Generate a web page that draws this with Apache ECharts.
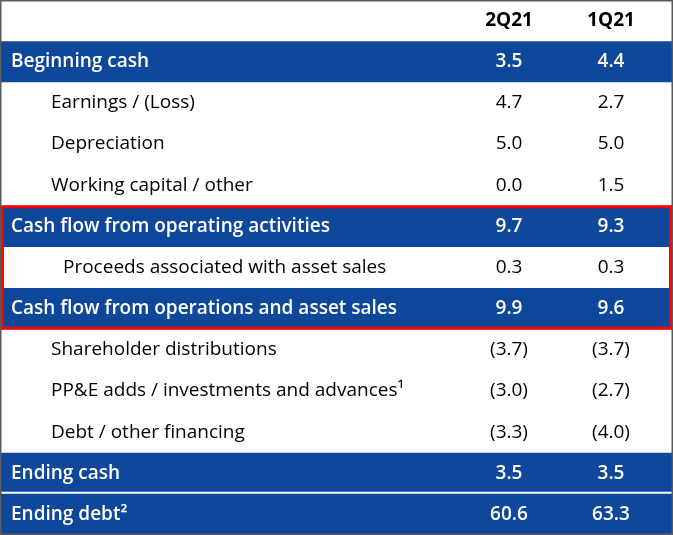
<!DOCTYPE html>
<html><head><meta charset="utf-8">
<script src="https://cdn.jsdelivr.net/npm/echarts@6/dist/echarts.min.js"></script>
<style>html,body{margin:0;padding:0;background:#fff}#c{width:673px;height:535px}</style>
</head><body><div id="c"></div>
<script>
const columns = ["2Q21", "1Q21"];
const labels = ["", "Beginning cash", "Earnings / (Loss)", "Depreciation", "Working capital / other",
  "Cash flow from operating activities", "Proceeds associated with asset sales",
  "Cash flow from operations and asset sales", "Shareholder distributions",
  "PP&E adds / investments and advances¹", "Debt / other financing", "Ending cash", "Ending debt²"];
const rowTypes = ["head", "total", "item", "item", "item", "total", "sub", "total", "item", "item", "item", "total", "total"];
const q2Values = [null, 3.5, 4.7, 5.0, 0.0, 9.7, 0.3, 9.9, -3.7, -3.0, -3.3, 3.5, 60.6];
const q1Values = [null, 4.4, 2.7, 5.0, 1.5, 9.3, 0.3, 9.6, -3.7, -2.7, -4.0, 3.5, 63.3];
const highlightRows = [5, 7];

const W = 673;
const BLUE = '#0F479B';
const FONT = '"Open Sans", "Noto Sans", sans-serif';
const FS = 19;
const COLX = [509, 611];
const INDENT = {total: 11, item: 51, sub: 63, head: 11};

function fmt(v) {
  if (v === null || v === undefined) return '';
  return v < 0 ? '(' + Math.abs(v).toFixed(1) + ')' : v.toFixed(1);
}

const chart = echarts.init(document.getElementById('c'), null, {renderer: 'canvas'});
const rowData = labels.map((l, i) => [0, i]);

chart.setOption({
  animation: false,
  grid: {left: 0, right: 0, top: 0, bottom: 0},
  xAxis: {type: 'value', min: 0, max: W, show: false},
  yAxis: {type: 'category', data: labels, inverse: true, show: false},
  series: [{
    type: 'custom',
    data: rowData,
    renderItem: function (params, api) {
      const i = api.value(1);
      const c = api.coord([0, i]);
      const h = api.size([0, 1])[1];
      const top = c[1] - h / 2;
      const type = rowTypes[i];
      const children = [];
      const blue = type === 'total';
      if (blue) {
        const gapBottom = (i === 11) ? 2 : 0;
        children.push({type: 'rect', shape: {x: 0, y: top, width: W, height: h - gapBottom},
          style: {fill: BLUE}});
      }
      const color = blue ? '#ffffff' : '#000000';
      const weight = blue ? 600 : 400;
      if (type === 'head') {
        columns.forEach((col, k) => {
          children.push({type: 'text', style: {x: COLX[k], y: c[1], text: col, fill: '#000',
            font: '700 ' + FS + 'px ' + FONT, textAlign: 'center', textVerticalAlign: 'middle'}});
        });
      } else {
        children.push({type: 'text', style: {x: INDENT[type], y: c[1], text: labels[i], fill: color,
          font: weight + ' ' + FS + 'px ' + FONT, textAlign: 'left', textVerticalAlign: 'middle'}});
        [q2Values[i], q1Values[i]].forEach((v, k) => {
          children.push({type: 'text', style: {x: COLX[k], y: c[1], text: fmt(v), fill: color,
            font: weight + ' ' + FS + 'px ' + FONT, textAlign: 'center', textVerticalAlign: 'middle'}});
        });
      }
      return {type: 'group', children: children};
    }
  }, {
    type: 'custom',
    data: [highlightRows],
    z: 5,
    renderItem: function (params, api) {
      const a = api.coord([0, api.value(0)]);
      const b = api.coord([0, api.value(1)]);
      const h = api.size([0, 1])[1];
      const y0 = a[1] - h / 2, y1 = b[1] + h / 2;
      return {type: 'rect', shape: {x: 2.5, y: y0 + 1, width: W - 5, height: y1 - y0 - 2},
        style: {fill: null, stroke: '#FF0000', lineWidth: 3}};
    }
  }],
  graphic: [{type: 'rect', z: 10, shape: {x: 0.5, y: 0.5, width: W - 1, height: 534},
    style: {fill: null, stroke: '#5a5a5a', lineWidth: 2}}]
});
</script></body></html>
